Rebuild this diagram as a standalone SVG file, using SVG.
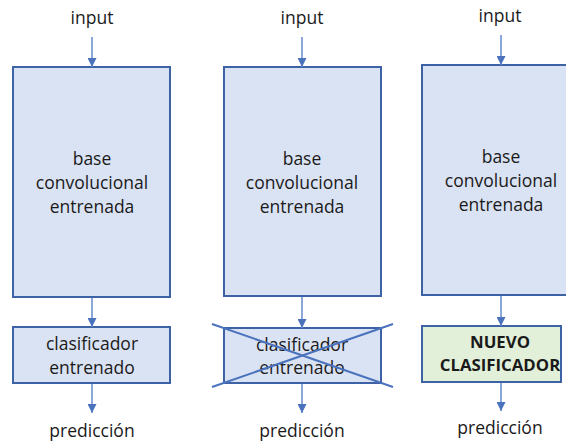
<svg xmlns="http://www.w3.org/2000/svg" width="566" height="444" viewBox="0 0 566 444">
  <defs>
    <marker id="head" markerWidth="9" markerHeight="9" refX="9" refY="4.5" orient="auto" markerUnits="userSpaceOnUse">
      <path d="M0,0 L9,4.5 L0,9 Z" fill="#4a72bd"/>
    </marker>
    <style>
      .lbl { font-family: "Open Sans", "Liberation Sans", sans-serif; font-size: 17.5px; fill: #1a1a1a; text-anchor: middle; }
      .bold { font-weight: bold; font-size: 16.8px; }
      .base { fill: #dae3f3; stroke: #3e62a6; stroke-width: 2; }
      .new { fill: #e2f0d9; stroke: #3e62a6; stroke-width: 2; }
      .conn { stroke: #6f92d0; stroke-width: 1.6; fill: none; marker-end: url(#head); }
      .cross { stroke: #4a72bd; stroke-width: 2; }
    </style>
  </defs>

  <rect width="566" height="444" fill="#ffffff"/>

  <!-- column 1: pretrained model with its classifier -->
  <g id="input1"><text class="lbl" x="92" y="24">input</text></g>
  <g id="base1">
    <rect class="base" x="13" y="67" width="157" height="230"/>
    <text class="lbl" x="92" y="165">base</text>
    <text class="lbl" x="92" y="189">convolucional</text>
    <text class="lbl" x="92" y="213">entrenada</text>
  </g>
  <g id="clf1">
    <rect class="base" x="13" y="327" width="157" height="56"/>
    <text class="lbl" x="92" y="350">clasificador</text>
    <text class="lbl" x="92" y="374">entrenado</text>
  </g>
  <g id="pred1"><text class="lbl" x="92" y="437">predicción</text></g>

  <!-- column 2: classifier discarded -->
  <g id="input2"><text class="lbl" x="302" y="24">input</text></g>
  <g id="base2">
    <rect class="base" x="224" y="67" width="157" height="229"/>
    <text class="lbl" x="302" y="165">base</text>
    <text class="lbl" x="302" y="189">convolucional</text>
    <text class="lbl" x="302" y="213">entrenada</text>
  </g>
  <g id="clf2">
    <rect class="base" x="224" y="328" width="157" height="55"/>
    <text class="lbl" x="302" y="351">clasificador</text>
    <text class="lbl" x="302" y="374">entrenado</text>
    <line class="cross" x1="212" y1="324" x2="393" y2="387"/>
    <line class="cross" x1="212" y1="387" x2="393" y2="324"/>
  </g>
  <g id="pred2"><text class="lbl" x="302" y="437">predicción</text></g>

  <!-- column 3: new classifier on the frozen base -->
  <g id="input3"><text class="lbl" x="500" y="22">input</text></g>
  <g id="base3">
    <rect class="base" x="422" y="65" width="160" height="230"/>
    <text class="lbl" x="501" y="163">base</text>
    <text class="lbl" x="501" y="187">convolucional</text>
    <text class="lbl" x="501" y="211">entrenada</text>
  </g>
  <g id="clf3">
    <rect class="new" x="422" y="326" width="139" height="56"/>
    <text class="lbl bold" x="500" y="348">NUEVO</text>
    <text class="lbl bold" x="500" y="371">CLASIFICADOR</text>
  </g>
  <g id="pred3"><text class="lbl" x="500" y="434">predicción</text></g>

  <!-- connectors -->
  <g id="connectors">
    <line class="conn" x1="92" y1="37" x2="92" y2="67"/>
    <line class="conn" x1="92" y1="298" x2="92" y2="327"/>
    <line class="conn" x1="92" y1="384" x2="92" y2="413"/>
    <line class="conn" x1="302" y1="37" x2="302" y2="67"/>
    <line class="conn" x1="302" y1="297" x2="302" y2="328"/>
    <line class="conn" x1="302" y1="384" x2="302" y2="413"/>
    <line class="conn" x1="501" y1="35" x2="501" y2="65"/>
    <line class="conn" x1="501" y1="296" x2="501" y2="326"/>
    <line class="conn" x1="501" y1="383" x2="501" y2="411"/>
  </g>
</svg>
